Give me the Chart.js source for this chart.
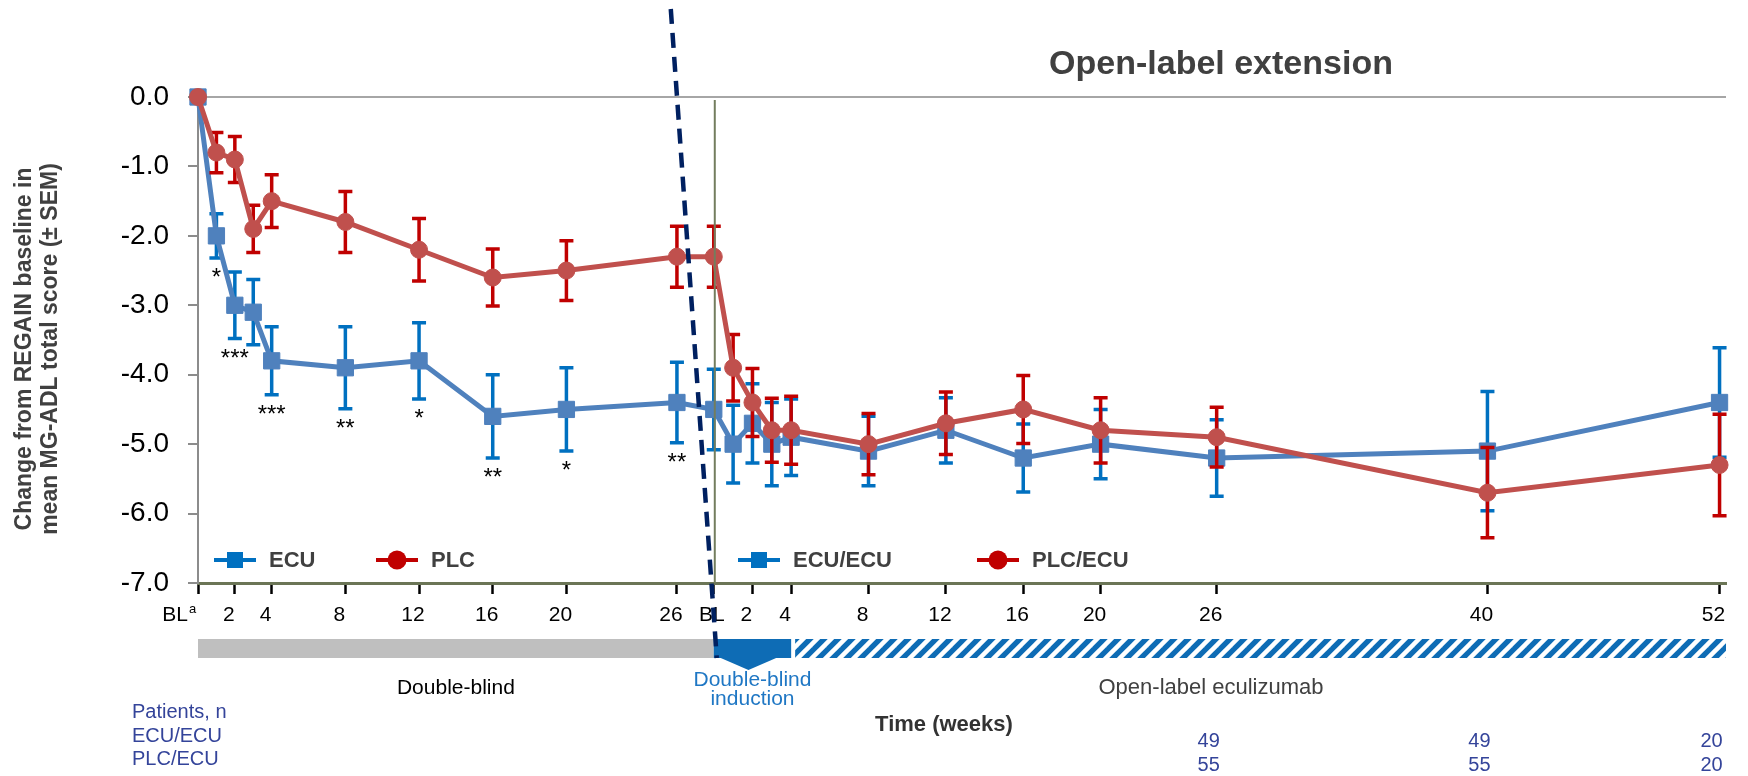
<!DOCTYPE html>
<html>
<head>
<meta charset="utf-8">
<script src="https://cdn.jsdelivr.net/npm/chart.js@4.4.1/dist/chart.umd.min.js"></script>
<style>
  html, body { margin: 0; padding: 0; background: #fff; }
  #wrap { width: 1748px; height: 776px; }
</style>
</head>
<body>
<div id="wrap"><canvas id="chart" width="1748" height="776"></canvas></div>
<script>
// weeks from REGAIN baseline (double-blind) and from open-label baseline
const dbWeeks = [0, 1, 2, 3, 4, 8, 12, 16, 20, 26];
const olWeeks = [0, 1, 2, 3, 4, 8, 12, 16, 20, 26, 40, 52];

// double-blind
const ecuMean = [0, -2.0, -3.0, -3.1, -3.8, -3.9, -3.8, -4.6, -4.5, -4.4];
const ecuSem  = [0, 0.32, 0.48, 0.47, 0.49, 0.59, 0.55, 0.60, 0.60, 0.58];
const plcMean = [0, -0.8, -0.9, -1.9, -1.5, -1.8, -2.2, -2.6, -2.5, -2.3];
const plcSem  = [0, 0.29, 0.33, 0.34, 0.38, 0.44, 0.45, 0.41, 0.43, 0.44];
const ecuSig  = ['', '*', '***', '', '***', '**', '*', '**', '*', '**'];

// open-label extension
const ecuEcuMean = [-4.5, -5.0, -4.7, -5.0, -4.9, -5.1, -4.8, -5.2, -5.0, -5.2, -5.1, -4.4];
const ecuEcuSem  = [0.58, 0.56, 0.57, 0.60, 0.55, 0.50, 0.47, 0.49, 0.50, 0.55, 0.86, 0.79];
const plcEcuMean = [-2.3, -3.9, -4.4, -4.8, -4.8, -5.0, -4.7, -4.5, -4.8, -4.9, -5.7, -5.3];
const plcEcuSem  = [0.44, 0.48, 0.49, 0.46, 0.49, 0.44, 0.45, 0.49, 0.47, 0.43, 0.65, 0.73];

// axis ticks
const dbTickWeeks = [0, 2, 4, 8, 12, 16, 20, 26];
const olTickWeeks = [0, 2, 4, 8, 12, 16, 20, 26, 40, 52];
const yTicks = [0, -1, -2, -3, -4, -5, -6, -7];

// patients, n
const nWeeks = [26, 40, 52];
const nEcuEcu = [49, 49, 20];
const nPlcEcu = [55, 55, 20];

// open-label weeks sit after the double-blind part on one linear axis
const OL_START = 28;
const OL_STRETCH = 1.05;
const olPos = w => OL_START + w * OL_STRETCH;

const FONT = "'Liberation Sans', Arial, Helvetica, sans-serif";
Chart.defaults.font.family = FONT;

const ecuData = dbWeeks.map((w, i) => ({ x: w, y: ecuMean[i] }))
  .concat(olWeeks.map((w, i) => ({ x: olPos(w), y: ecuEcuMean[i] })));
const plcData = dbWeeks.map((w, i) => ({ x: w, y: plcMean[i] }))
  .concat(olWeeks.map((w, i) => ({ x: olPos(w), y: plcEcuMean[i] })));

const errorBars = {
  id: 'errorBars',
  beforeDatasetDraw(chart, args) {
    const ds = chart.data.datasets[args.index];
    const ys = chart.scales.y;
    const ctx = chart.ctx;
    ctx.save();
    ctx.strokeStyle = ds.errorColor;
    ctx.lineWidth = 3.5;
    args.meta.data.forEach((pt, i) => {
      const s = ds.sem[i];
      if (!s) return;
      const v = ds.data[i].y;
      const top = ys.getPixelForValue(v + s);
      const bot = ys.getPixelForValue(v - s);
      ctx.beginPath();
      ctx.moveTo(pt.x, top); ctx.lineTo(pt.x, bot);
      ctx.moveTo(pt.x - 7, top); ctx.lineTo(pt.x + 7, top);
      ctx.moveTo(pt.x - 7, bot); ctx.lineTo(pt.x + 7, bot);
      ctx.stroke();
    });
    ctx.restore();
  }
};

function hatch(ctx) {
  const c = document.createElement('canvas');
  c.width = 14; c.height = 14;
  const g = c.getContext('2d');
  g.fillStyle = '#0E6CB5';
  g.fillRect(0, 0, 14, 14);
  g.strokeStyle = '#fff';
  g.lineWidth = 4.5;
  [-14, 0, 14].forEach(o => {
    g.beginPath();
    g.moveTo(o - 2, 16); g.lineTo(o + 16, -2);
    g.stroke();
  });
  return ctx.createPattern(c, 'repeat');
}

function legendItem(ctx, x, y, text, color, style) {
  ctx.strokeStyle = color;
  ctx.lineWidth = 4;
  ctx.beginPath();
  ctx.moveTo(x, y); ctx.lineTo(x + 42, y);
  ctx.stroke();
  ctx.fillStyle = color;
  if (style === 'rect') {
    ctx.fillRect(x + 13, y - 8, 16, 16);
  } else {
    ctx.beginPath();
    ctx.arc(x + 21, y, 9.5, 0, Math.PI * 2);
    ctx.fill();
  }
  ctx.fillStyle = '#404040';
  ctx.font = 'bold 22px ' + FONT;
  ctx.textAlign = 'left';
  ctx.textBaseline = 'middle';
  ctx.fillText(text, x + 55, y + 1);
}

const decorations = {
  id: 'decorations',
  afterDraw(chart) {
    const ctx = chart.ctx;
    const xs = chart.scales.x, ys = chart.scales.y, area = chart.chartArea;
    const px = v => xs.getPixelForValue(v);
    const x0 = px(0);
    const xOL = px(olPos(0));
    const xOL4 = px(olPos(4));
    ctx.save();

    // separator at open-label baseline
    ctx.strokeStyle = '#737d5e';
    ctx.lineWidth = 2;
    ctx.beginPath();
    ctx.moveTo(xOL + 1, area.top + 3); ctx.lineTo(xOL + 1, area.bottom);
    ctx.stroke();

    // significance marks under ECU points
    const ecuMeta = chart.getDatasetMeta(1);
    ctx.fillStyle = '#000';
    ctx.font = '24px ' + FONT;
    ctx.textAlign = 'center';
    ctx.textBaseline = 'alphabetic';
    ecuSig.forEach((s, i) => {
      if (!s) return;
      const yb = ys.getPixelForValue(ecuMean[i] - ecuSem[i]);
      ctx.fillText(s, ecuMeta.data[i].x, yb + 27);
    });

    // x tick labels (set a little left of their ticks, as in the source)
    ctx.font = '21px ' + FONT;
    ctx.textBaseline = 'middle';
    const labY = area.bottom + 32;
    dbTickWeeks.forEach(w => {
      if (w === 0) {
        ctx.textAlign = 'right';
        ctx.fillText('BL', x0 - 10, labY);
        ctx.font = '13px ' + FONT;
        ctx.textAlign = 'left';
        ctx.fillText('a', x0 - 9, labY - 6);
        ctx.font = '21px ' + FONT;
        ctx.textAlign = 'center';
      } else {
        ctx.fillText(String(w), px(w) - 6, labY);
      }
    });
    olTickWeeks.forEach(w => {
      ctx.fillText(w === 0 ? 'BL' : String(w), px(olPos(w)) - (w === 0 ? 2 : 6), labY);
    });

    // phase bar
    const barTop = area.bottom + 56, barH = 19;
    ctx.fillStyle = '#BFBFBF';
    ctx.fillRect(x0, barTop, xOL - x0, barH);
    ctx.fillStyle = '#0E6CB5';
    ctx.fillRect(xOL, barTop, xOL4 - xOL, barH);
    ctx.beginPath();
    ctx.moveTo(xOL + 7, barTop + barH);
    ctx.lineTo(xOL4 - 15, barTop + barH);
    ctx.lineTo((xOL + 7 + xOL4 - 15) / 2, barTop + barH + 12);
    ctx.closePath();
    ctx.fill();
    ctx.fillStyle = hatch(ctx);
    ctx.fillRect(xOL4 + 4, barTop, area.right - xOL4 - 4, barH);

    // phase labels
    ctx.textAlign = 'center';
    ctx.textBaseline = 'middle';
    ctx.font = '21px ' + FONT;
    ctx.fillStyle = '#000';
    ctx.fillText('Double-blind', (x0 + xOL) / 2, 688);
    ctx.fillStyle = '#1F77C4';
    ctx.fillText('Double-blind', (xOL + xOL4) / 2, 680);
    ctx.fillText('induction', (xOL + xOL4) / 2, 699);
    ctx.fillStyle = '#404040';
    ctx.font = '22px ' + FONT;
    ctx.fillText('Open-label eculizumab', 1211, 688);
    ctx.fillStyle = '#333';
    ctx.font = 'bold 22px ' + FONT;
    ctx.fillText('Time (weeks)', 944, 725);

    // patients at risk
    ctx.font = '20px ' + FONT;
    ctx.fillStyle = '#34449A';
    ctx.textAlign = 'left';
    ctx.fillText('Patients, n', 132, 712);
    ctx.fillText('ECU/ECU', 132, 736);
    ctx.fillText('PLC/ECU', 132, 759);
    ctx.textAlign = 'center';
    nWeeks.forEach((w, i) => {
      ctx.fillText(String(nEcuEcu[i]), px(olPos(w)) - 8, 741);
      ctx.fillText(String(nPlcEcu[i]), px(olPos(w)) - 8, 765);
    });

    // y axis title
    ctx.save();
    ctx.translate(0, 349);
    ctx.rotate(-Math.PI / 2);
    ctx.fillStyle = '#404040';
    ctx.font = 'bold 23px ' + FONT;
    ctx.textAlign = 'center';
    ctx.textBaseline = 'middle';
    ctx.fillText('Change from REGAIN baseline in', 0, 25);
    ctx.fillText('mean MG-ADL total score (\u00B1 SEM)', 0, 51);
    ctx.restore();

    // header
    ctx.fillStyle = '#404040';
    ctx.font = 'bold 34px ' + FONT;
    ctx.textAlign = 'center';
    ctx.textBaseline = 'alphabetic';
    ctx.fillText('Open-label extension', 1221, 74);

    // legends
    legendItem(ctx, 214, 560, 'ECU', '#0070C0', 'rect');
    legendItem(ctx, 376, 560, 'PLC', '#C00000', 'circle');
    legendItem(ctx, 738, 560, 'ECU/ECU', '#0070C0', 'rect');
    legendItem(ctx, 977, 560, 'PLC/ECU', '#C00000', 'circle');

    // dashed phase boundary
    ctx.strokeStyle = '#002060';
    ctx.lineWidth = 4.5;
    ctx.setLineDash([15, 9]);
    ctx.beginPath();
    ctx.moveTo(xOL - 43, 9);
    ctx.lineTo(xOL + 3, barTop + barH);
    ctx.stroke();
    ctx.restore();
  }
};

new Chart(document.getElementById('chart'), {
  type: 'line',
  data: {
    datasets: [
      {
        label: 'PLC / PLC/ECU',
        data: plcData,
        sem: plcSem.concat(plcEcuSem),
        errorColor: '#C00000',
        borderColor: '#C0504D',
        backgroundColor: '#C0504D',
        borderWidth: 5,
        pointStyle: 'circle',
        pointRadius: 8.5,
        pointBorderWidth: 1,
        tension: 0,
        clip: false
      },
      {
        label: 'ECU / ECU/ECU',
        data: ecuData,
        sem: ecuSem.concat(ecuEcuSem),
        errorColor: '#0070C0',
        borderColor: '#4F81BD',
        backgroundColor: '#4F81BD',
        borderWidth: 5,
        pointStyle: 'rect',
        pointRadius: 11.5,
        pointBorderWidth: 1,
        tension: 0,
        clip: false
      }
    ]
  },
  options: {
    responsive: false,
    animation: false,
    devicePixelRatio: 1,
    layout: { padding: { top: 97, right: 22, left: 0, bottom: 0 } },
    plugins: { legend: { display: false }, tooltip: { enabled: false } },
    scales: {
      x: {
        type: 'linear',
        min: 0,
        max: 82.95,
        afterBuildTicks: s => {
          s.ticks = dbTickWeeks.map(v => ({ value: v }))
            .concat(olTickWeeks.map(w => ({ value: olPos(w) })));
        },
        afterFit: s => { s.height = 193; },
        ticks: { display: false },
        grid: { drawOnChartArea: false, drawTicks: true, tickLength: 11, tickColor: '#000', tickWidth: 2.5 },
        border: { color: '#6b7556', width: 3 }
      },
      y: {
        min: -7,
        max: 0,
        afterBuildTicks: s => { s.ticks = yTicks.map(v => ({ value: v })); },
        afterFit: s => { s.width = 198; },
        ticks: { font: { size: 28 }, color: '#000', padding: 19, callback: v => v.toFixed(1) },
        grid: {
          color: c => (c.tick && c.tick.value === 0 ? '#a6a6a6' : 'rgba(0,0,0,0)'),
          lineWidth: 2,
          tickColor: '#8c8c8c',
          tickLength: 10,
          tickWidth: 2
        },
        border: { color: '#8c8c8c', width: 2 }
      }
    }
  },
  plugins: [errorBars, decorations]
});
</script>
</body>
</html>
